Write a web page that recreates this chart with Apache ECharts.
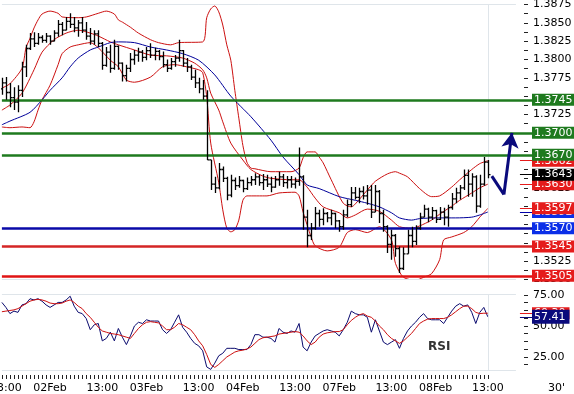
<!DOCTYPE html>
<html><head><meta charset="utf-8">
<script src="https://cdn.jsdelivr.net/npm/echarts@6/dist/echarts.min.js"></script>
<style>html,body{margin:0;padding:0;background:#fff}#c{width:574px;height:394px}</style>
</head><body><div id="c"></div>
<script>
// ---------- data ----------
const tickLabelIdx = [1,12,25,36,49,60,73,84,97,108,121];
const tickLabels = ['13:00','02Feb','13:00','03Feb','13:00','04Feb','13:00','07Feb','13:00','08Feb','13:00'];
const rsiAxisLabels = [25, 50, 75];

const open = [1.3760,1.3768,1.3755,1.3748,1.3742,1.3758,1.3790,1.3815,1.3828,1.3822,
1.3830,1.3826,1.3832,1.3825,1.3836,1.3848,1.3840,1.3852,1.3848,1.3843,
1.3850,1.3840,1.3832,1.3825,1.3835,1.3822,1.3792,1.3810,1.3788,1.3818,
1.3795,1.3778,1.3788,1.3800,1.3806,1.3810,1.3803,1.3812,1.3806,1.3811,
1.3804,1.3793,1.3788,1.3797,1.3802,1.3812,1.3795,1.3790,1.3776,1.3768,
1.3760,1.3750,1.3663,1.3630,1.3625,1.3650,1.3638,1.3615,1.3635,1.3628,
1.3635,1.3624,1.3632,1.3636,1.3640,1.3632,1.3636,1.3630,1.3626,1.3636,
1.3640,1.3632,1.3636,1.3630,1.3634,1.3640,1.3585,1.3560,1.3570,1.3590,
1.3582,1.3590,1.3584,1.3590,1.3580,1.3572,1.3588,1.3602,1.3618,1.3612,
1.3620,1.3614,1.3622,1.3592,1.3620,1.3590,1.3572,1.3548,1.3560,1.3542,
1.3515,1.3535,1.3560,1.3552,1.3570,1.3585,1.3596,1.3585,1.3594,1.3582,
1.3592,1.3585,1.3598,1.3610,1.3618,1.3625,1.3642,1.3630,1.3640,1.3600,
1.3630,1.3660];
const high = [1.3775,1.3776,1.3768,1.3762,1.3765,1.3797,1.3820,1.3836,1.3837,1.3836,
1.3833,1.3836,1.3833,1.3840,1.3854,1.3851,1.3858,1.3863,1.3858,1.3854,
1.3858,1.3851,1.3843,1.3840,1.3840,1.3824,1.3817,1.3820,1.3827,1.3819,
1.3796,1.3793,1.3809,1.3813,1.3816,1.3813,1.3817,1.3822,1.3816,1.3813,
1.3811,1.3800,1.3802,1.3806,1.3827,1.3813,1.3802,1.3793,1.3786,1.3775,
1.3772,1.3758,1.3663,1.3640,1.3659,1.3654,1.3640,1.3643,1.3639,1.3641,
1.3636,1.3639,1.3641,1.3645,1.3643,1.3644,1.3643,1.3640,1.3641,1.3647,
1.3644,1.3641,1.3641,1.3639,1.3680,1.3642,1.3595,1.3577,1.3599,1.3595,
1.3597,1.3592,1.3595,1.3591,1.3581,1.3595,1.3609,1.3626,1.3626,1.3625,
1.3627,1.3629,1.3629,1.3629,1.3622,1.3595,1.3574,1.3568,1.3562,1.3545,
1.3544,1.3568,1.3572,1.3574,1.3591,1.3602,1.3598,1.3599,1.3595,1.3599,
1.3598,1.3602,1.3618,1.3625,1.3629,1.3650,1.3650,1.3645,1.3642,1.3643,
1.3667,1.3663];
const low = [1.3752,1.3745,1.3735,1.3731,1.3728,1.3749,1.3776,1.3813,1.3817,1.3820,
1.3823,1.3823,1.3820,1.3825,1.3831,1.3833,1.3840,1.3843,1.3837,1.3831,
1.3836,1.3827,1.3820,1.3820,1.3817,1.3786,1.3790,1.3782,1.3786,1.3786,
1.3770,1.3770,1.3783,1.3793,1.3797,1.3797,1.3799,1.3802,1.3799,1.3799,
1.3789,1.3783,1.3786,1.3790,1.3797,1.3790,1.3783,1.3772,1.3761,1.3754,
1.3745,1.3663,1.3622,1.3618,1.3623,1.3633,1.3608,1.3612,1.3622,1.3625,
1.3619,1.3622,1.3628,1.3629,1.3628,1.3622,1.3626,1.3619,1.3625,1.3628,
1.3626,1.3624,1.3625,1.3624,1.3628,1.3568,1.3544,1.3554,1.3568,1.3572,
1.3574,1.3578,1.3574,1.3570,1.3565,1.3568,1.3585,1.3599,1.3609,1.3604,
1.3609,1.3602,1.3584,1.3592,1.3577,1.3565,1.3536,1.3527,1.3531,1.3509,
1.3513,1.3535,1.3544,1.3547,1.3568,1.3585,1.3578,1.3581,1.3577,1.3581,
1.3574,1.3572,1.3595,1.3604,1.3609,1.3622,1.3613,1.3613,1.3591,1.3598,
1.3628,1.3638];
const close = [1.3768,1.3755,1.3748,1.3742,1.3758,1.3790,1.3815,1.3828,1.3822,1.3830,
1.3826,1.3832,1.3825,1.3836,1.3848,1.3840,1.3852,1.3848,1.3843,1.3850,
1.3840,1.3832,1.3825,1.3835,1.3822,1.3792,1.3810,1.3788,1.3818,1.3795,
1.3778,1.3788,1.3800,1.3806,1.3810,1.3803,1.3812,1.3806,1.3811,1.3804,
1.3793,1.3788,1.3797,1.3802,1.3812,1.3795,1.3790,1.3776,1.3768,1.3760,
1.3750,1.3663,1.3630,1.3625,1.3650,1.3638,1.3615,1.3635,1.3628,1.3635,
1.3624,1.3632,1.3636,1.3640,1.3632,1.3636,1.3630,1.3626,1.3636,1.3640,
1.3632,1.3636,1.3630,1.3634,1.3640,1.3585,1.3560,1.3570,1.3590,1.3582,
1.3590,1.3584,1.3590,1.3580,1.3572,1.3588,1.3602,1.3618,1.3612,1.3620,
1.3614,1.3622,1.3592,1.3620,1.3590,1.3572,1.3548,1.3560,1.3542,1.3515,
1.3535,1.3560,1.3552,1.3570,1.3585,1.3596,1.3585,1.3594,1.3582,1.3592,
1.3585,1.3598,1.3610,1.3618,1.3625,1.3642,1.3630,1.3640,1.3600,1.3630,
1.3660,1.3643];

const bbUpper = [[0,1.3761],[2,1.3767],[5,1.3788],[6,1.3816],[7,1.3829],[8,1.3843],[9,1.3854],[10,1.3862],[12,1.3866],[14,1.3863],[15,1.3858],[19,1.3857],[21,1.3858],[24,1.3863],[26,1.3866],[28,1.3862],[29,1.3854],[30,1.3851],[32,1.3844],[34,1.3836],[37,1.3827],[39,1.3823],[42,1.3820],[44,1.3823],[50,1.3824],[51,1.3857],[52,1.3869],[53,1.3873],[54,1.3865],[55,1.3847],[56,1.3820],[57,1.3799],[58,1.3758],[59,1.3720],[60,1.3683],[61,1.3660],[62,1.3652],[63,1.3651],[67,1.3647],[72,1.3647],[74,1.3652],[75,1.3666],[76,1.3674],[78,1.3674],[79,1.3667],[80,1.3659],[82,1.3636],[85,1.3604],[87,1.3599],[88,1.3603],[91,1.3622],[93,1.3634],[96,1.3644],[98,1.3647],[99,1.3645],[101,1.3640],[104,1.3624],[107,1.3613],[109,1.3614],[112,1.3626],[114,1.3636],[117,1.3650],[119,1.3658],[121,1.3662]];
const bbMid = [[0,1.3731],[2,1.3738],[5,1.3754],[8,1.3786],[10,1.3810],[13,1.3827],[16,1.3836],[19,1.3840],[22,1.3836],[24,1.3832],[27,1.3824],[29,1.3820],[33,1.3813],[37,1.3806],[41,1.3805],[45,1.3802],[48,1.3795],[50,1.3786],[51,1.3775],[52,1.3754],[54,1.3731],[55,1.3715],[57,1.3686],[60,1.3663],[62,1.3650],[65,1.3641],[67,1.3638],[72,1.3636],[74,1.3636],[76,1.3626],[78,1.3611],[80,1.3599],[84,1.3591],[86,1.3584],[88,1.3588],[91,1.3596],[94,1.3593],[97,1.3581],[99,1.3572],[102,1.3570],[104,1.3573],[107,1.3581],[109,1.3589],[112,1.3600],[114,1.3608],[117,1.3618],[119,1.3625],[121,1.3630]];
const bbLower = [[0,1.3708],[2,1.3707],[5,1.3708],[7,1.3707],[8,1.3715],[9,1.3731],[10,1.3745],[12,1.3765],[14,1.3793],[15,1.3808],[17,1.3817],[19,1.3820],[22,1.3823],[24,1.3816],[27,1.3799],[29,1.3790],[31,1.3772],[33,1.3769],[37,1.3776],[40,1.3790],[43,1.3793],[46,1.3790],[49,1.3786],[50,1.3782],[51,1.3749],[52,1.3686],[54,1.3632],[55,1.3595],[56,1.3570],[57,1.3565],[58,1.3568],[59,1.3581],[60,1.3608],[61,1.3614],[66,1.3614],[69,1.3618],[73,1.3619],[74,1.3614],[75,1.3592],[77,1.3558],[78,1.3546],[81,1.3539],[84,1.3544],[86,1.3564],[88,1.3568],[91,1.3564],[94,1.3572],[97,1.3554],[98,1.3522],[100,1.3503],[103,1.3499],[105,1.3503],[107,1.3508],[109,1.3527],[110,1.3554],[112,1.3558],[115,1.3564],[117,1.3572],[119,1.3585],[121,1.3597]];
const maBlue = [[0,1.3711],[2,1.3716],[7,1.3728],[10,1.3745],[12,1.3758],[15,1.3775],[17,1.3790],[19,1.3802],[22,1.3813],[24,1.3817],[27,1.3823],[29,1.3824],[33,1.3823],[37,1.3817],[41,1.3813],[45,1.3808],[49,1.3799],[53,1.3779],[57,1.3750],[62,1.3722],[67,1.3690],[70,1.3667],[74,1.3643],[76,1.3629],[79,1.3624],[84,1.3613],[88,1.3608],[91,1.3604],[94,1.3599],[97,1.3591],[99,1.3584],[102,1.3581],[104,1.3583],[108,1.3584],[113,1.3584],[117,1.3585],[119,1.3588],[121,1.3592]];

const rsi = [69,65,60,62,61,67,68,72,71,72, 70,67,65,67,69,69,71,74,66,61,
60,56,47,51,52,38,40,45,38,48, 41,35,42,50,53,52,55,54,54,54,
47,44,47,53,59,49,45,40,36,34, 30,17,15,20,26,28,32,32,32,31,
31,31,35,43,43,41,41,40,37,48, 45,44,46,45,52,33,30,37,42,44,
46,47,46,45,42,47,53,62,60,59, 59,57,45,55,46,37,35,37,39,32,
40,46,50,53,57,60,56,55,55,55, 52,57,62,66,68,66,67,61,52,61,
65,57.41];
const rsiMa = [61.5,62,62.5,63,64,66,68,70,71,71.5, 71,70,68.5,68,68,68.5,70,71,69,66,
64,60,57,53,49,46,45,44,43.5,43, 42,41,40,44,48,51,53,53.5,53,52.5,
50,47,47,49,52,51,49,47,43,38, 34,27,19,16.6,19,22,25,27,29,30,
30.5,31.5,33,36,39,40.5,41,41.5,42,43.5, 44,44.5,45,45.5,45,42,38,35,37,41,
43.5,44.5,45,45.5,45.5,47,51,54.5,57,59, 60,58,57,54,50,47,43,40,38,36,
38,41,44,48,52,54,55.5,56,56,56, 56,57,59,61.5,64,66,66,64,61,60,
60.3,60.3];

const greenLevels = [1.3745, 1.3700, 1.3670];
const blueLevels = [1.3570];
const redLevels = [1.3545, 1.3505];
const arrowPath = [[122,1.3641],[125,1.3616],[127,1.3700]];

// ---------- helpers ----------
const N = 133;                       // hourly slots incl. empty projection area
const LAST = 121;                    // index of last bar
const xCats = Array.from({length: N}, (_, i) => String(i));
const FONT = 'DejaVu Sans';
const GREEN = '#1e7a1e', RED = '#e51b1b', BLUE = '#0a2ee8', NAVY = '#0a0a7c', BORDER = '#dfe5ea';
const lastV = a => Array.isArray(a[a.length-1]) ? a[a.length-1][1] : a[a.length-1];

// values that get a coloured box on the right axis; an axis label sitting just above a box is hidden by it
const boxValues = [...greenLevels, ...blueLevels, ...redLevels,
  lastV(bbUpper), lastV(bbMid), lastV(bbLower), lastV(maBlue), lastV(close)];
const coveredByBox = v => boxValues.some(b => v - b >= -1e-7 && v - b <= 0.00085);

function boxLabel(bg, text, tall) {
  return {show: true, position: 'end', distance: 0, formatter: text, color: '#fff',
    backgroundColor: bg, padding: tall ? [1, 4, 1, 2] : [0, 4, 0, 2], fontSize: 11, lineHeight: 12, fontFamily: FONT};
}
function levelItem(v, lineColor, boxColor) {
  return {yAxis: v, lineStyle: {color: lineColor, width: 2.5, type: 'solid'}, label: boxLabel(boxColor, v.toFixed(4))};
}
function shortItem(v, lineColor, boxColor, digits, tall) {
  return [{coord: [129, v], lineStyle: {color: lineColor, width: 1, type: 'solid'}, label: boxLabel(boxColor, v.toFixed(digits), tall)},
          {coord: [132, v]}];
}
function borderItem(v) {
  return [{coord: [0, v], lineStyle: {color: BORDER, width: 1, type: 'solid'}, label: {show: false}}, {coord: [128, v]}];
}
const mlBase = {silent: true, symbol: ['none', 'none'], animation: false, precision: 4};

function renderOHLC(params, api) {
  const i = api.value(0);
  const pO = api.coord([i, api.value(1)]);
  const pH = api.coord([i, api.value(2)]);
  const pL = api.coord([i, api.value(3)]);
  const pC = api.coord([i, api.value(4)]);
  const x = Math.round(pH[0]) + 0.5;
  const st = {stroke: '#000', lineWidth: 1.3};
  return {type: 'group', children: [
    {type: 'line', shape: {x1: x, y1: pH[1], x2: x, y2: pL[1]}, style: st},
    {type: 'line', shape: {x1: x - 2, y1: pO[1], x2: x, y2: pO[1]}, style: st},
    {type: 'line', shape: {x1: x, y1: pC[1], x2: x + 2, y2: pC[1]}, style: st}
  ]};
}

const ohlcData = open.map((o, i) => [i, o, high[i], low[i], close[i]]);
const rsiData = rsi.map((v, i) => [i, v]);
const rsiMaData = rsiMa.map((v, i) => [i, v]);

const chart = echarts.init(document.getElementById('c'));
chart.setOption({
  animation: false,
  backgroundColor: '#fff',
  textStyle: {fontFamily: FONT},
  grid: [
    {left: 1.9, right: 42, top: 4.5, height: 275, outerBoundsMode: 'none', containLabel: false},
    {left: 1.9, right: 42, top: 294, height: 78.5, outerBoundsMode: 'none', containLabel: false}
  ],
  xAxis: [
    {type: 'category', gridIndex: 0, data: xCats, boundaryGap: false, show: false},
    {type: 'category', gridIndex: 1, data: xCats, boundaryGap: false, offset: 2.5,
      axisLine: {show: false},
      axisTick: {show: true, length: 4, interval: (idx) => idx <= LAST, lineStyle: {color: '#222', width: 1}},
      axisLabel: {show: true, margin: 8, fontSize: 11, color: '#000', fontFamily: FONT, hideOverlap: false,
        interval: (idx) => tickLabelIdx.includes(idx),
        formatter: (val, idx) => { const k = tickLabelIdx.indexOf(idx); return k >= 0 ? tickLabels[k] : ''; }},
      splitLine: {show: false}}
  ],
  yAxis: [
    {type: 'value', gridIndex: 0, position: 'right', min: 1.3500, max: 1.3875, interval: 0.0025, offset: -4,
      axisLine: {show: false},
      axisTick: {show: true, inside: true, length: 4, lineStyle: {color: '#222'}},
      minorTick: {show: true, splitNumber: 2, length: 4, lineStyle: {color: '#222'}},
      axisLabel: {margin: 5, fontSize: 11, color: '#000', fontFamily: FONT, hideOverlap: false,
        formatter: v => coveredByBox(v) ? '' : v.toFixed(4)},
      splitLine: {show: false}},
    {type: 'value', gridIndex: 1, position: 'right', min: 12.5, max: 75.8, interval: 6.25, offset: -4,
      axisLine: {show: false},
      axisTick: {show: true, inside: true, length: 4, lineStyle: {color: '#222'}},
      axisLabel: {margin: 5, fontSize: 11, color: '#000', fontFamily: FONT, showMinLabel: false, showMaxLabel: false,
        hideOverlap: false,
        formatter: v => rsiAxisLabels.some(t => Math.abs(t - v) < 1e-6) ? v.toFixed(2) : ''},
      splitLine: {show: false}}
  ],
  series: [
    {type: 'custom', name: 'price', xAxisIndex: 0, yAxisIndex: 0, z: 5, renderItem: renderOHLC,
      encode: {x: 0, y: [1, 2, 3, 4]}, data: ohlcData, clip: true},
    {type: 'line', name: 'bbUpper', data: bbUpper, symbol: 'none', smooth: 0.25, z: 3,
      lineStyle: {color: '#cc1010', width: 1}},
    {type: 'line', name: 'bbMid', data: bbMid, symbol: 'none', smooth: 0.25, z: 3,
      lineStyle: {color: '#cc1010', width: 1}},
    {type: 'line', name: 'bbLower', data: bbLower, symbol: 'none', smooth: 0.25, z: 3,
      lineStyle: {color: '#cc1010', width: 1}},
    {type: 'line', name: 'ma', data: maBlue, symbol: 'none', smooth: 0.25, z: 3,
      lineStyle: {color: '#00009a', width: 1}},
    // blue MA last-value marker (lowest)
    {type: 'line', data: [], z: 2, markLine: Object.assign({}, mlBase, {data: [shortItem(lastV(maBlue), '#0000aa', BLUE, 4)]})},
    // band last-value markers
    {type: 'line', data: [], z: 3, markLine: Object.assign({}, mlBase, {data: [
      shortItem(lastV(bbUpper), RED, RED, 4), shortItem(lastV(bbMid), RED, RED, 4), shortItem(lastV(bbLower), RED, RED, 4)]})},
    // borders, current-bar line, levels, last close
    {type: 'line', data: [], z: 4, markLine: Object.assign({}, mlBase, {data: [
      borderItem(1.3875), borderItem(1.3500),
      {xAxis: LAST, lineStyle: {color: BORDER, width: 1, type: 'solid'}, label: {show: false}},
      ...greenLevels.map(v => levelItem(v, GREEN, GREEN)),
      ...blueLevels.map(v => levelItem(v, '#0a0aa8', BLUE)),
      levelItem(redLevels[0], '#d42525', RED),
      levelItem(redLevels[1], '#e01414', RED),
      shortItem(lastV(close), '#000', '#000', 4)]})},
    // projection arrow
    {type: 'line', name: 'arrow', data: arrowPath.slice(0, 2), symbol: 'none', z: 6,
      lineStyle: {color: NAVY, width: 3}},
    {type: 'line', data: [], z: 6, markLine: {silent: true, animation: false, precision: 4, symbol: ['none', 'arrow'], symbolSize: [13, 15],
      lineStyle: {color: NAVY, width: 3, type: 'solid'}, label: {show: false},
      data: [[{coord: arrowPath[1]}, {coord: arrowPath[2]}]]}},
    // RSI panel
    {type: 'line', name: 'RSI', xAxisIndex: 1, yAxisIndex: 1, data: rsiData, symbol: 'none', z: 3,
      lineStyle: {color: '#0a0a6e', width: 1}},
    {type: 'line', name: 'RSI MA', xAxisIndex: 1, yAxisIndex: 1, data: rsiMaData, symbol: 'none', z: 4,
      lineStyle: {color: '#cc1010', width: 1}},
    {type: 'line', xAxisIndex: 1, yAxisIndex: 1, data: [], z: 2, markLine: Object.assign({}, mlBase, {data: [
      borderItem(75.8), borderItem(14.5),
      [{coord: [LAST, 14.5], lineStyle: {color: BORDER, width: 1, type: 'solid'}, label: {show: false}}, {coord: [LAST, 75.8]}],
      shortItem(lastV(rsiMa), RED, RED, 2)]})},
    {type: 'line', xAxisIndex: 1, yAxisIndex: 1, data: [], z: 5, markLine: Object.assign({}, mlBase, {data: [
      shortItem(lastV(rsi), NAVY, NAVY, 2, true)]})}
  ],
  graphic: [
    {type: 'text', left: 428, top: 341, style: {text: 'RSI', font: 'bold 12px "DejaVu Sans"', fill: '#333'}},
    {type: 'text', left: 548, top: 383, style: {text: "30'", font: '11px "DejaVu Sans"', fill: '#000'}}
  ]
});
</script></body></html>
